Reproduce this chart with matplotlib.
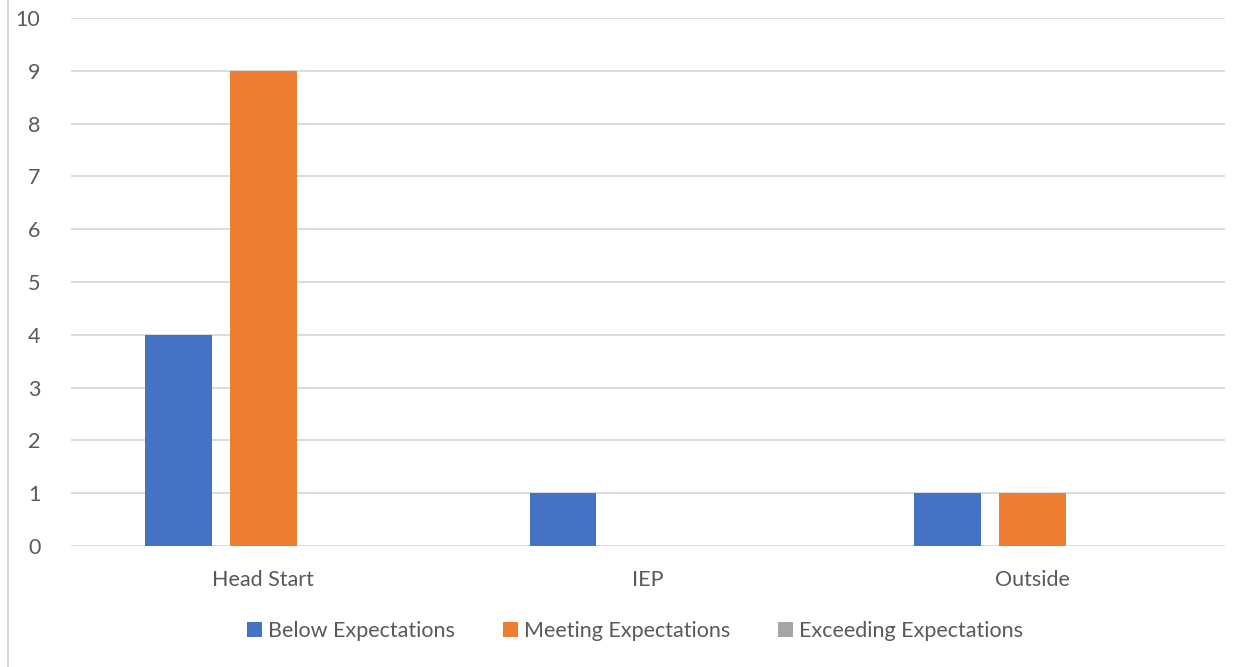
import numpy as np
import matplotlib
matplotlib.use("Agg")
from matplotlib import pyplot as plt
from matplotlib.lines import Line2D

categories = ["Head Start", "IEP", "Outside"]
below = [4, 1, 1]
meeting = [9, 0, 1]
exceeding = [0, 0, 0]
series_names = ["Below Expectations", "Meeting Expectations", "Exceeding Expectations"]
colors = ["#4472C4", "#ED7D31", "#A5A5A5"]

plt.rcParams["font.family"] = ["Lato", "DejaVu Sans"]
text_color = "#595959"

fig = plt.figure(figsize=(12.53, 6.67), dpi=100)
ax = fig.add_axes([71 / 1253, 1 - 546 / 667, (1225 - 71) / 1253, (546 - 18) / 667])

x = np.arange(len(categories))
width = 0.174
offset = 0.221
for i, (vals, name, c) in enumerate(zip([below, meeting, exceeding], series_names, colors)):
    ax.bar(x + (i - 1) * offset, vals, width, color=c, label=name, zorder=3)

ax.set_xlim(-0.5, len(categories) - 0.5)
ax.set_ylim(0, 10)
ax.set_yticks(range(0, 11))
ax.set_xticks(x)
ax.set_xticklabels(categories)
ax.yaxis.grid(True, color="#D9D9D9", linewidth=1.3, zorder=0)
for s in ax.spines.values():
    s.set_visible(False)
ax.tick_params(axis="both", length=0, labelsize=15.5, colors=text_color)
ax.tick_params(axis="x", pad=17)
ax.tick_params(axis="y", pad=22)

fig.legend(loc="center", bbox_to_anchor=(635 / 1253, 1 - 631 / 667), ncol=3,
           frameon=False, fontsize=15.5, labelcolor=text_color,
           handlelength=0.7, handleheight=0.7, handletextpad=0.3, columnspacing=2.2)

fig.add_artist(Line2D([7.5 / 1253, 7.5 / 1253], [0, 1], color="#D9D9D9", linewidth=1.5))

fig.savefig("out.png", dpi=100, facecolor="white")
